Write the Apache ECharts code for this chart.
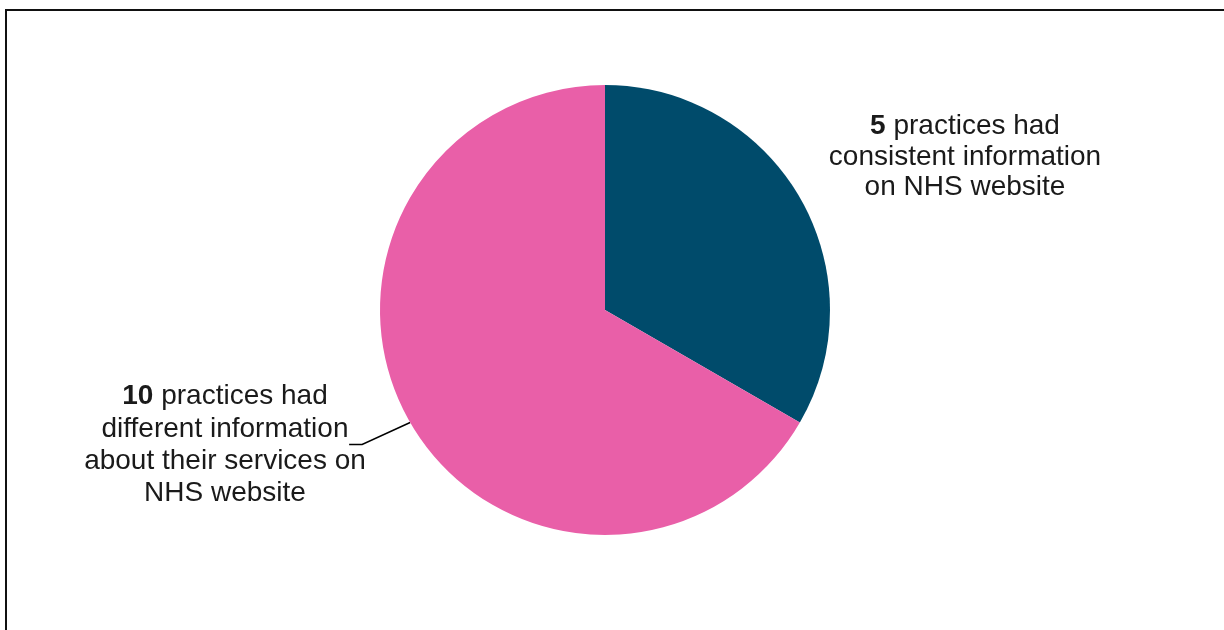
<!DOCTYPE html>
<html>
<head>
<meta charset="utf-8">
<script src="https://cdn.jsdelivr.net/npm/echarts@6/dist/echarts.min.js"></script>
<style>
  html, body { margin: 0; padding: 0; background: #fff; }
  #frame { position: absolute; left: 5px; top: 9px; width: 1300px; height: 700px;
           border-left: 2px solid #111; border-top: 2px solid #111; }
  #chart { position: absolute; left: 0; top: 0; width: 1224px; height: 630px; }
</style>
</head>
<body>
<div id="frame"></div>
<div id="chart"></div>
<script>
const categories = ['Consistent information', 'Different information'];
const values = [5, 10];
const labelTexts = [
  'practices had\nconsistent information\non NHS website',
  'practices had\ndifferent information\nabout their services on\nNHS website'
];
const colors = ['#004B6B', '#E95FA8'];

const chart = echarts.init(document.getElementById('chart'));
const FONT = 'Liberation Sans, Arial, sans-serif';
const labelPos = [
  { x: 965, y: 157 },
  { x: 225, y: 445 }
];
const lineHeights = [30.5, 32.3];
chart.setOption({
  animation: false,
  series: [{
    type: 'pie',
    center: [605, 310],
    radius: 225,
    startAngle: 90,
    clockwise: true,
    data: categories.map((c, i) => ({
      name: c,
      value: values[i],
      itemStyle: { color: colors[i] },
      labelLine: { show: i === 1 },
      label: {
        lineHeight: lineHeights[i],
        rich: { b: { fontWeight: 'bold', fontSize: 28, lineHeight: lineHeights[i], color: '#1a1a1a', fontFamily: FONT } }
      }
    })),
    label: {
      show: true,
      position: 'outside',
      align: 'center',
      fontFamily: FONT,
      fontSize: 28,
      color: '#1a1a1a',
      formatter: p => '{b|' + p.value + '} ' + labelTexts[p.dataIndex]
    },
    labelLine: {
      show: true,
      length: 50,
      length2: 8,
      lineStyle: { color: '#000', width: 1.5 }
    },
    labelLayout: p => {
      const o = {
        x: labelPos[p.dataIndex].x,
        y: labelPos[p.dataIndex].y,
        align: 'center',
        verticalAlign: 'middle'
      };
      if (p.labelLinePoints && p.dataIndex === 1) {
        const p0 = p.labelLinePoints[0];
        const p1 = [p0[0] - 48, p0[1] + 22];
        const p2 = [p1[0] - 13, p1[1]];
        o.labelLinePoints = [p0, p1, p2];
      }
      return o;
    }
  }]
});
</script>
</body>
</html>
